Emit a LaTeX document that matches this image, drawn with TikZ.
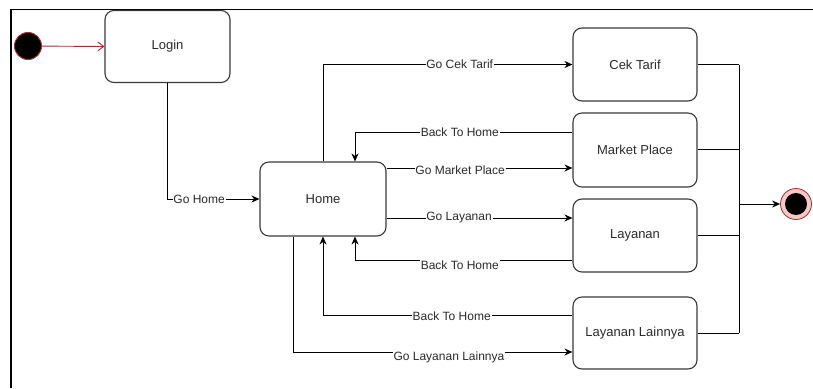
\documentclass[tikz,border=0pt]{standalone}
\usepackage{fontspec}
\setmainfont{Liberation Sans}
\usetikzlibrary{arrows.meta}
\definecolor{boxline}{HTML}{3A3A3A}
\definecolor{txt}{HTML}{2A2A2A}
\definecolor{ired}{HTML}{A03030}
\definecolor{fpink}{HTML}{F4C8C4}
\tikzset{
  state/.style={draw=boxline, line width=1.1pt, rounded corners=9pt, fill=white,
    minimum width=#1, text=txt, font=\fontsize{13}{15}\selectfont},
  lbl/.style={fill=white, inner sep=0.8pt, text=txt, font=\fontsize{12}{14}\selectfont},
  arr/.style={draw=black, line width=0.8pt, -{Stealth[length=8pt,width=7pt]}},
  conn/.style={draw=black, line width=0.8pt}
}
\begin{document}
\begin{tikzpicture}[x=1pt,y=-1pt]
\useasboundingbox (0,0) rectangle (813,388);
% frame
\draw[line width=1.2pt] (10,9.5) -- (813,9.5);
\draw[line width=1.2pt] (11,9) -- (11,388);
% nodes
\node[circle, fill=black, draw=ired, line width=1pt, minimum size=27pt, inner sep=0] (init) at (28,46) {};
\node[state=125pt, minimum height=72pt] (login) at (167.5,46.5) {Login};
\node[state=126pt, minimum height=74pt] (home) at (323,199) {Home};
\node[state=124pt, minimum height=73pt] (cek) at (635,64.5) {Cek Tarif};
\node[state=124pt, minimum height=74pt] (market) at (635,150) {Market Place};
\node[state=124pt, minimum height=73pt] (layanan) at (635,235.5) {Layanan};
\node[state=124pt, minimum height=72pt] (lainnya) at (635,333) {Layanan Lainnya};
\node[circle, fill=fpink, draw=ired, line width=0.8pt, minimum size=31pt, inner sep=0] (final) at (796,204) {};
\node[circle, fill=black, minimum size=22pt, inner sep=0] (finalin) at (final) {};
\coordinate (m) at (739,204);
% initial arrow
\draw[draw=ired, line width=0.9pt, -{Straight Barb[length=6pt,width=9pt]}] (init) -- (login.west);
% go home
\draw[arr] (login.south) |- node[lbl, pos=0.672] {Go Home} (home.west);
% go cek tarif
\draw[arr] (home.north) |- node[lbl, pos=0.774] {Go Cek Tarif} (cek.west);
% back to home from market place
\draw[arr] ([yshift=18pt]market.west) -| node[lbl, pos=0.259] {Back To Home} ([xshift=32pt]home.north);
% go market place
\draw[arr] ([yshift=31pt]home.east) -- node[lbl, pos=0.396, yshift=-2pt] {Go Market Place} ([yshift=31pt]home.east -| market.west);
% go layanan
\draw[arr] ([yshift=-19pt]home.east) -- node[lbl, pos=0.39] {Go Layanan} ([yshift=-19pt]home.east -| layanan.west);
% back to home from layanan
\draw[arr] ([yshift=-24.5pt]layanan.west) -| node[lbl, pos=0.259, yshift=-5pt] {Back To Home} ([xshift=32pt]home.south);
% back to home from layanan lainnya
\draw[arr] ([yshift=18pt]lainnya.west) -| node[lbl, pos=0.242, yshift=-1pt] {Back To Home} (home.south);
% go layanan lainnya
\draw[arr] ([xshift=-30pt]home.south) |- node[lbl, pos=0.779, yshift=-5pt] {Go Layanan Lainnya} ([yshift=-19pt]lainnya.west);
% merge to final
\draw[conn] (cek.east) -- (cek.east -| m);
\draw[conn] ([yshift=1pt]market.east) -- ([yshift=1pt]market.east -| m);
\draw[conn] (layanan.east) -- (layanan.east -| m);
\draw[conn] (lainnya.east) -- (lainnya.east -| m);
\draw[conn] (cek.east -| m) -- (lainnya.east -| m);
\draw[arr] (m) -- (final.west);
\end{tikzpicture}
\end{document}
